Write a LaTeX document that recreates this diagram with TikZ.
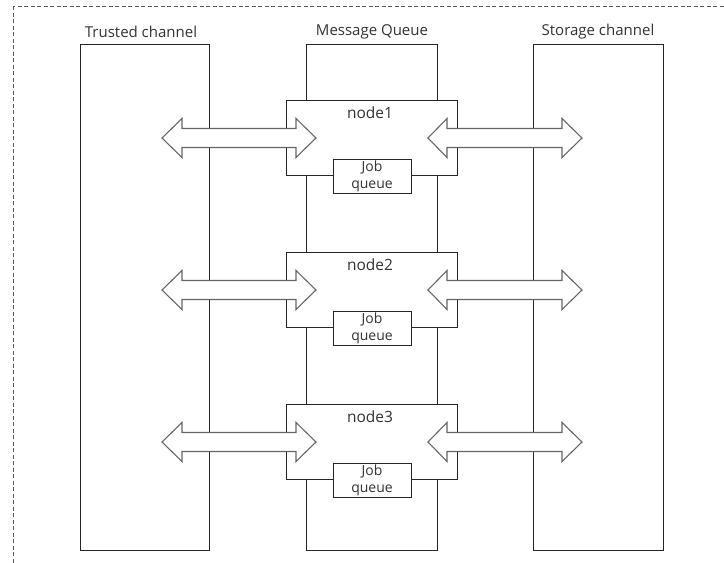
\documentclass[tikz,border=0pt]{standalone}
\usepackage{fontspec}
\setmainfont{Open Sans}
\begin{document}
\begin{tikzpicture}[x=1pt,y=-1pt,
  box/.style={draw=black!85,line width=0.9pt,fill=white},
  fatarrow/.style={draw=black!60,line width=1.1pt,fill=white,line join=miter},
  frame/.style={draw=black!65,line width=0.9pt,dash pattern=on 4pt off 2.5pt},
  title/.style={font=\fontsize{15}{17}\selectfont,text=black!80,inner sep=0pt},
  nodelabel/.style={font=\fontsize{15.5}{17}\selectfont,text=black!80,inner sep=0pt},
  jobbox/.style={draw=black!85,line width=0.9pt,fill=white,minimum width=78pt,minimum height=34pt,inner sep=0pt},
  jobtext/.style={align=center,inner sep=0pt,font=\fontsize{14}{17}\selectfont,text=black!80}]
\useasboundingbox (0,0) rectangle (724,563);
\fill[white] (0,0) rectangle (724,563);
% outer dashed frame, running past the right and bottom edges
\begin{scope}
  \clip (0,0) rectangle (724,563);
  \draw[frame] (13,6) rectangle (740,580);
\end{scope}
% the three columns
\draw[box] (80,44) rectangle (209,550);
\draw[box] (306,44) rectangle (437,550);
\draw[box] (533,44) rectangle (663,550);
\node[title] (trusted) at (141,32) {Trusted channel};
\node[title] (mq) at (372,32) {Message Queue};
\node[title] (storage) at (598,32) {Storage channel};
% the three nodes with their job queues and links to both channels
\foreach \i/\yt in {1/100,2/252,3/404}{
  \pgfmathsetmacro{\yb}{\yt+75}
  \pgfmathsetmacro{\yc}{\yt+38}
  \draw[box] (286,\yt) rectangle (457,\yb);
  \node[nodelabel] (lbl\i) at (370,\yt+13) {node\i};
  \node[jobbox,anchor=north] (job\i) at (372,\yb-16) {};
  \node[jobtext] (jobtxt\i) at (372,\yb+1) {Job\\queue};
  \draw[fatarrow] (162,\yc) -- (182,\yc-19.5) -- (182,\yc-9.5) -- (296,\yc-9.5)
     -- (296,\yc-19.5) -- (316,\yc) -- (296,\yc+19.5) -- (296,\yc+9.5)
     -- (182,\yc+9.5) -- (182,\yc+19.5) -- cycle;
  \draw[fatarrow] (428,\yc) -- (447,\yc-19.5) -- (447,\yc-9.5) -- (562,\yc-9.5)
     -- (562,\yc-19.5) -- (582,\yc) -- (562,\yc+19.5) -- (562,\yc+9.5)
     -- (447,\yc+9.5) -- (447,\yc+19.5) -- cycle;
}
\end{tikzpicture}
\end{document}
